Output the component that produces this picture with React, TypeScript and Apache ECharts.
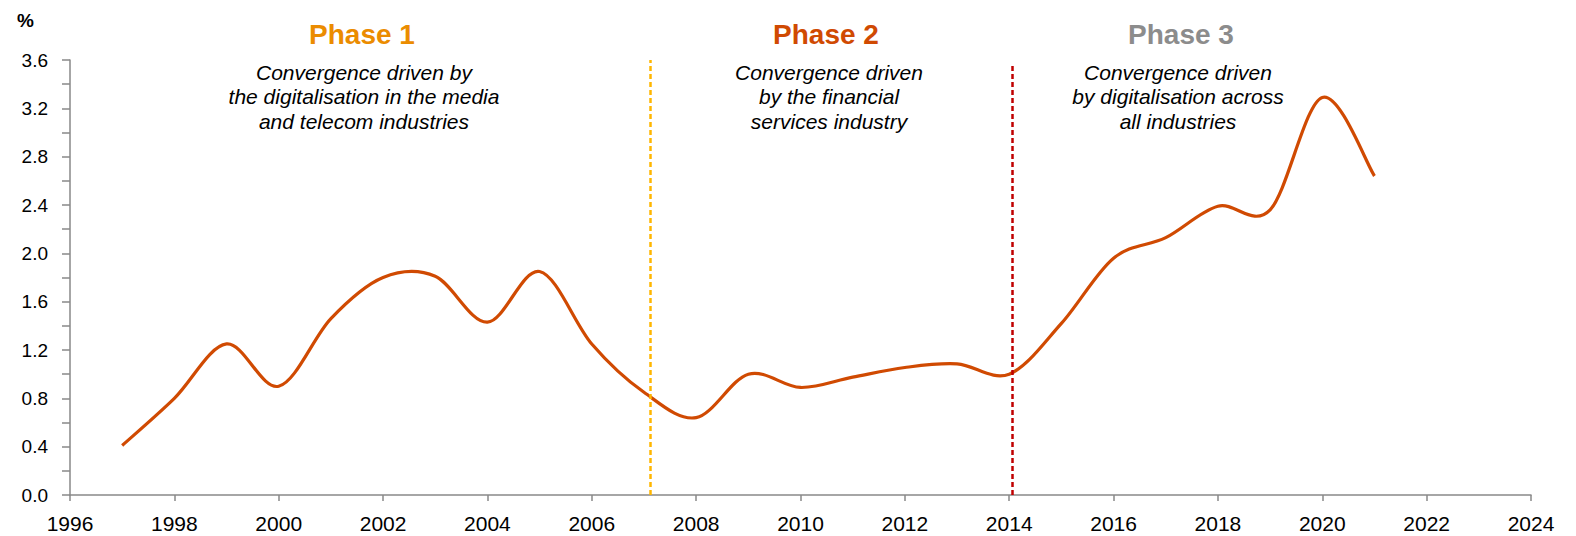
import React, { useEffect, useRef } from "react";
import * as echarts from "echarts";

const years = [1997, 1998, 1999, 2000, 2001, 2002, 2003, 2004, 2005, 2006, 2007, 2008, 2009, 2010, 2011, 2012, 2013, 2014, 2015, 2016, 2017, 2018, 2019, 2020, 2021];
const values = [0.41, 0.8, 1.25, 0.9, 1.46, 1.8, 1.81, 1.43, 1.85, 1.25, 0.85, 0.64, 1.0, 0.89, 0.975, 1.055, 1.085, 1.0, 1.42, 1.96, 2.13, 2.39, 2.36, 3.29, 2.64];

const phaseTitles = ["Phase 1", "Phase 2", "Phase 3"];
const phaseTexts = [
  "Convergence driven by\nthe digitalisation in the media\nand telecom industries",
  "Convergence driven\nby the financial\nservices industry",
  "Convergence driven\nby digitalisation across\nall industries",
];
const phaseBoundaries = [2007.13, 2014.05];

const FONT = "'Liberation Sans', Arial, sans-serif";

export default function App() {
  const ref = useRef<HTMLDivElement>(null);
  useEffect(() => {
    if (!ref.current) return;
    const chart = echarts.init(ref.current, undefined, { renderer: "svg" });
    const titleColors = ["#EB8C00", "#D04A02", "#8C8C8C"];
    const titleX = [362, 826, 1181];
    const textX = [364, 829, 1178];
    const graphics: any[] = [
      {
        type: "text",
        left: 17,
        top: 11,
        style: { text: "%", font: `bold 19px ${FONT}`, fill: "#000" },
      },
    ];
    phaseTitles.forEach((t, i) => {
      graphics.push({
        type: "text",
        x: titleX[i],
        y: 34,
        style: {
          text: t,
          font: `bold 28px ${FONT}`,
          fill: titleColors[i],
          align: "center",
          verticalAlign: "middle",
        },
      });
      graphics.push({
        type: "text",
        x: textX[i],
        y: 60,
        style: {
          text: phaseTexts[i],
          font: `italic 21px ${FONT}`,
          fill: "#000",
          align: "center",
          verticalAlign: "top",
          lineHeight: 24.5,
        },
      });
    });

    const renderCurve = (params: any, api: any) => {
      if (params.dataIndex !== 0) return null;
      const pts = years.map((y, i) => api.coord([y, values[i]]));
      const n = pts.length;
      let d = `M${pts[0][0]},${pts[0][1]}`;
      for (let i = 0; i < n - 1; i++) {
        const p0 = pts[Math.max(0, i - 1)];
        const p1 = pts[i];
        const p2 = pts[i + 1];
        const p3 = pts[Math.min(n - 1, i + 2)];
        const c1x = p1[0] + (p2[0] - p0[0]) / 6;
        const c1y = p1[1] + (p2[1] - p0[1]) / 6;
        const c2x = p2[0] - (p3[0] - p1[0]) / 6;
        const c2y = p2[1] - (p3[1] - p1[1]) / 6;
        d += ` C${c1x},${c1y} ${c2x},${c2y} ${p2[0]},${p2[1]}`;
      }
      return {
        type: "path",
        shape: { pathData: d },
        style: { fill: "none", stroke: "#D04A02", lineWidth: 3.2, lineJoin: "round" },
      };
    };

    chart.setOption({
      animation: false,
      backgroundColor: "#fff",
      grid: { left: 70, right: 45, top: 60, bottom: 41, containLabel: false },
      xAxis: {
        type: "value",
        min: 1996,
        max: 2024,
        interval: 2,
        axisLine: { show: true, lineStyle: { color: "#898989", width: 1.5 } },
        axisTick: { show: true, length: 6, lineStyle: { color: "#898989", width: 1.5 } },
        splitLine: { show: false },
        axisLabel: {
          color: "#000",
          fontFamily: FONT,
          fontSize: 21,
          margin: 18,
          formatter: (v: number) => String(v),
        },
      },
      yAxis: {
        type: "value",
        min: 0,
        max: 3.6,
        interval: 0.4,
        axisLine: { show: true, lineStyle: { color: "#898989", width: 1.5 } },
        axisTick: { show: true, length: 8, lineStyle: { color: "#898989", width: 1.5 } },
        minorTick: { show: true, splitNumber: 2, length: 8, lineStyle: { color: "#898989", width: 1.5 } },
        splitLine: { show: false },
        axisLabel: {
          color: "#000",
          fontFamily: FONT,
          fontSize: 19,
          margin: 22,
          formatter: (v: number) => v.toFixed(1),
        },
      },
      graphic: graphics,
      series: [
        {
          type: "custom",
          data: years.map((y, i) => [y, values[i]]),
          encode: { x: 0, y: 1 },
          renderItem: renderCurve,
          z: 3,
          silent: true,
        },
        {
          type: "line",
          data: [],
          symbol: "none",
          markLine: {
            silent: true,
            symbol: "none",
            label: { show: false },
            data: [
              [
                { coord: [phaseBoundaries[0], 0], lineStyle: { color: "#FFB600", width: 2.5, type: [5, 3] } },
                { coord: [phaseBoundaries[0], 3.6] },
              ],
              [
                { coord: [phaseBoundaries[1], 0], lineStyle: { color: "#C00000", width: 2.5, type: [5, 3] } },
                { coord: [phaseBoundaries[1], 3.56] },
              ],
            ],
          },
        },
      ],
    });
    return () => chart.dispose();
  }, []);
  return (
    <div
      ref={ref}
      style={{ position: "fixed", left: 0, top: 0, width: 1576, height: 536 }}
    />
  );
}
